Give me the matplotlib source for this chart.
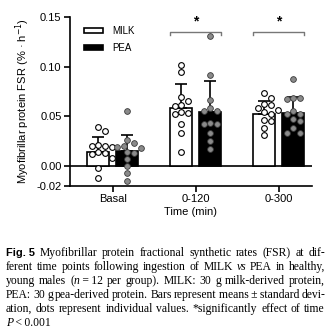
import matplotlib
matplotlib.use("Agg")
import matplotlib.pyplot as plt
import numpy as np
from matplotlib.patches import Patch

# ---------------- data ----------------
categories = ["Basal", "0-120", "0-300"]
groups = ["MILK", "PEA"]
milk_mean = [0.0145, 0.0588, 0.0525]
milk_sd = [0.0145, 0.0235, 0.0132]
pea_mean = [0.0150, 0.0545, 0.0530]
pea_sd = [0.0167, 0.0312, 0.0170]

milk_basal = [0.039, 0.035, 0.020, 0.021, 0.019, 0.020, 0.013, 0.014, 0.012, 0.008, -0.002, -0.012]
milk_120 = [0.102, 0.095, 0.070, 0.066, 0.061, 0.060, 0.054, 0.053, 0.052, 0.042, 0.033, 0.014]
milk_300 = [0.074, 0.069, 0.062, 0.061, 0.058, 0.056, 0.054, 0.052, 0.046, 0.045, 0.038, 0.031]
pea_basal = [0.055, 0.026, 0.023, 0.020, 0.019, 0.018, 0.014, 0.013, 0.007, 0.000, -0.007, -0.015]
pea_120 = [0.131, 0.092, 0.067, 0.058, 0.055, 0.055, 0.043, 0.042, 0.042, 0.033, 0.025, 0.017]
pea_300 = [0.088, 0.068, 0.069, 0.069, 0.052, 0.055, 0.052, 0.045, 0.047, 0.038, 0.033, 0.033]

sig_groups = [1, 2]
yticks = [-0.02, 0.00, 0.05, 0.10, 0.15]
ytick_labels = ["-0.02", "0.00", "0.05", "0.10", "0.15"]

milk_points = [milk_basal, milk_120, milk_300]
pea_points = [pea_basal, pea_120, pea_300]

# ---------------- figure ----------------
plt.rcParams['font.family'] = ['Liberation Sans', 'DejaVu Sans']
fig = plt.figure(figsize=(3.33, 3.29), dpi=100)
ax = fig.add_axes([0.210, 0.4347, 0.727, 0.5136])

x = np.arange(len(categories))
w = 0.265
off = 0.175


def swarm(vals, xc):
    # deterministic beeswarm in approx pixel units
    xs_px = 1 / 83.0
    ys_px = 0.001
    d = 6.8
    placed = []
    out = [None] * len(vals)
    order = np.argsort(vals)[::-1]
    for i in order:
        vy = vals[i] / ys_px
        for k in range(0, 30):
            cands = [0] if k == 0 else [k * 0.5 * d, -k * 0.5 * d]
            ok_c = None
            for c in cands:
                if all((c - px) ** 2 + (vy - py) ** 2 >= d * d for px, py in placed):
                    ok_c = c
                    break
            if ok_c is not None:
                placed.append((ok_c, vy))
                out[i] = xc + ok_c * xs_px
                break
    return out


for i in range(len(categories)):
    ax.bar(x[i] - off, milk_mean[i], w, color="white", edgecolor="black", linewidth=1.2, zorder=2)
    ax.bar(x[i] + off, pea_mean[i], w, color="black", edgecolor="black", linewidth=1.2, zorder=2)
    ax.errorbar(x[i] - off, milk_mean[i], yerr=[[0], [milk_sd[i]]], color="black",
                capsize=4.5, elinewidth=1.2, capthick=1.2, zorder=3)
    ax.errorbar(x[i] + off, pea_mean[i], yerr=[[0], [pea_sd[i]]], color="black",
                capsize=4.5, elinewidth=1.2, capthick=1.2, zorder=3)
    mx = swarm(milk_points[i], x[i] - off)
    px = swarm(pea_points[i], x[i] + off)
    ax.scatter(mx, milk_points[i], s=17, facecolor="white", edgecolor="black", linewidth=0.8, zorder=4)
    ax.scatter(px, pea_points[i], s=17, facecolor="#8a8a8a", edgecolor="#3a3a3a", linewidth=0.6, zorder=4)

ax.axhline(0, color="black", linewidth=1.2, zorder=1)

for g in sig_groups:
    x0, x1 = g - off - w / 2, g + off + w / 2
    ax.plot([x0, x0, x1, x1], [0.132, 0.135, 0.135, 0.132], color="#777777", linewidth=1.0, zorder=1)
    ax.text(g, 0.1455, "*", ha="center", va="center", fontsize=10, fontweight="bold")

ax.set_xlim(-0.518, 2.4)
ax.set_ylim(-0.02, 0.15)
ax.set_yticks(yticks)
ax.set_yticklabels(ytick_labels)
ax.set_xticks(x)
ax.set_xticklabels(categories)
ax.tick_params(labelsize=8, width=1.2, length=4, pad=2)
for s in ["top", "right"]:
    ax.spines[s].set_visible(False)
for s in ["left", "bottom"]:
    ax.spines[s].set_linewidth(1.2)
ax.set_xlabel("Time (min)", fontsize=8, labelpad=2)
ax.set_ylabel("Myofibrillar protein FSR (% · h$^{-1}$)", fontsize=8, labelpad=3)

handles = [Patch(facecolor="white", edgecolor="black", linewidth=1.2),
           Patch(facecolor="black", edgecolor="black", linewidth=1.2)]
ax.legend(handles, groups, loc="upper left", bbox_to_anchor=(0.02, 1.0), frameon=False,
          fontsize=7, handlelength=2.0, handleheight=0.4, handletextpad=1.0, labelspacing=0.7)

# ---------------- caption (justified) ----------------
serif = 'Liberation Serif'
fs = 8.4
lines = [
    [[("Fig. 5", "bold")], [("Myofibrillar", "n")], [("protein", "n")], [("fractional", "n")],
     [("synthetic", "n")], [("rates", "n")], [("(FSR)", "n")], [("at", "n")], [("dif-", "n")]],
    [[("ferent", "n")], [("time", "n")], [("points", "n")], [("following", "n")], [("ingestion", "n")],
     [("of", "n")], [("MILK", "n")], [("vs", "i")], [("PEA", "n")], [("in", "n")], [("healthy,", "n")]],
    [[("young", "n")], [("males", "n")], [("(", "n"), ("n", "i"), ("\u2009=\u200912", "n")], [("per", "n")],
     [("group).", "n")], [("MILK:", "n")], [("30", "n")], [("g", "n")], [("milk-derived", "n")],
     [("protein,", "n")]],
    [[("PEA:", "n")], [("30", "n")], [("g", "n")], [("pea-derived", "n")], [("protein.", "n")],
     [("Bars", "n")], [("represent", "n")], [("means\u2009±\u2009standard", "n")], [("devi-", "n")]],
    [[("ation,", "n")], [("dots", "n")], [("represent", "n")], [("individual", "n")], [("values.", "n")],
     [("*significantly", "n")], [("effect", "n")], [("of", "n")], [("time", "n")]],
    [[("P", "i"), ("\u2009<\u20090.001", "n")]],
]

fig.canvas.draw()
renderer = fig.canvas.get_renderer()
W = fig.get_figwidth() * fig.dpi
H = fig.get_figheight() * fig.dpi
left_px, right_px = 6.0, 325.0
base_px = 256.0
lh = 13.9


def style_kw(st):
    if st == "bold":
        return dict(family=['Liberation Sans', 'DejaVu Sans'], fontweight="bold", fontsize=fs - 0.5)
    if st == "i":
        return dict(family=[serif, 'DejaVu Serif'], fontstyle="italic", fontsize=fs)
    return dict(family=[serif, 'DejaVu Serif'], fontsize=fs)


def run_width(txt, st):
    t = fig.text(0, 0, txt, **style_kw(st))
    bb = t.get_window_extent(renderer)
    t.remove()
    return bb.width


for li, words in enumerate(lines):
    y_px = base_px + li * lh
    widths = []
    for wd in words:
        widths.append(sum(run_width(t, s) for t, s in wd))
    last = li == len(lines) - 1
    if last or len(words) == 1:
        gap = 2.2
    else:
        gap = max(1.5, (right_px - left_px - sum(widths)) / (len(words) - 1))
    xcur = left_px
    for wd, wdw in zip(words, widths):
        xr = xcur
        for t, s in wd:
            fig.text(xr / W, 1 - y_px / H, t, va="baseline", ha="left", **style_kw(s))
            xr += run_width(t, s)
        xcur += wdw + gap

fig.savefig("out.png", dpi=100)
